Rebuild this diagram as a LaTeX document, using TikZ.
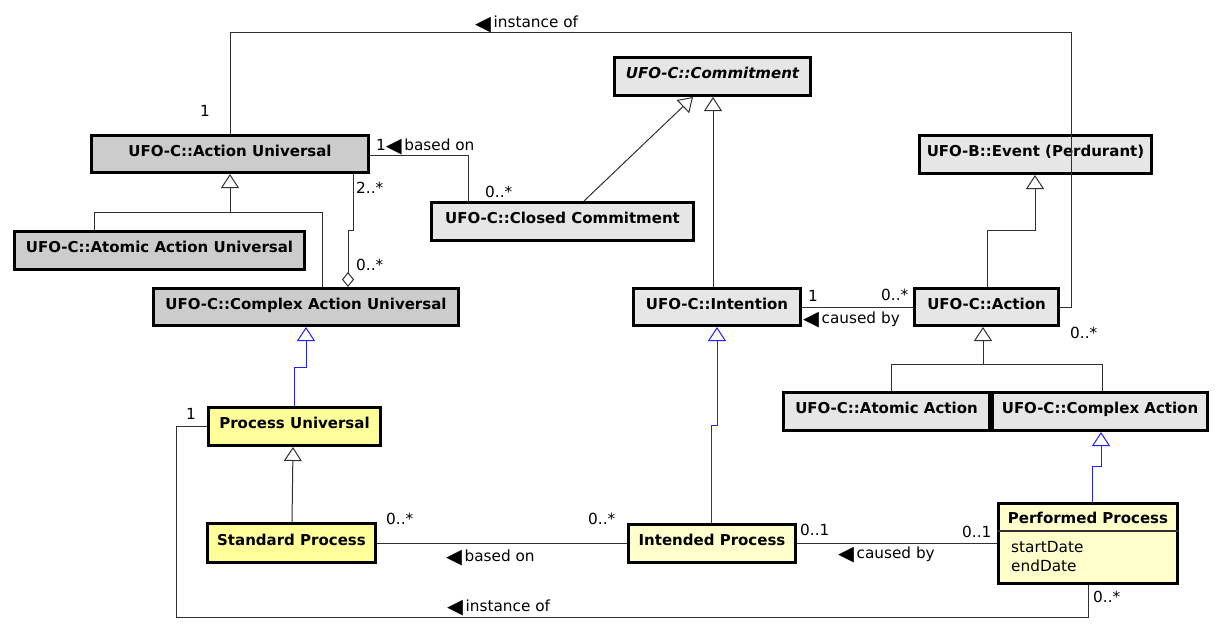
\documentclass[tikz,border=0pt]{standalone}
\usepackage{fontspec}
\setmainfont{DejaVu Sans}
\usetikzlibrary{arrows.meta}
\definecolor{dgrey}{HTML}{CCCCCC}
\definecolor{lgrey}{HTML}{E6E6E6}
\definecolor{yel}{HTML}{FFFF99}
\definecolor{lyel}{HTML}{FFFFCC}
\definecolor{umlblue}{HTML}{2020FF}
\definecolor{wirec}{HTML}{303030}
\newcommand{\rdtri}{\raisebox{-2pt}{\scalebox{1.35}{◀}}\hspace{2.5pt}}
\begin{document}
\begin{tikzpicture}[x=1pt,y=-1pt,
 cls/.style={draw=black, line width=3pt, rectangle, inner sep=0pt,
   font=\fontsize{15}{17}\selectfont\bfseries, text height=11pt, text depth=7pt, align=center},
 lbl/.style={inner sep=0pt, anchor=base west, font=\fontsize{15.3}{17}\selectfont},
 wire/.style={draw=wirec, line width=1pt},
 gen/.style={wire, -{Triangle[open,length=14pt,width=18pt,fill=white]}},
 bgen/.style={gen, draw=umlblue},
 agg/.style={wire, {Diamond[open,length=15pt,width=12pt,fill=white]}-},
]
\fill[white] (0,0) rectangle (1221,642);
\useasboundingbox (0,0) rectangle (1221,642);

% classes
\node[cls, fill=dgrey, minimum width=277pt, minimum height=37pt] (AU) at (230,154) {UFO-C::Action Universal};
\node[cls, fill=dgrey, minimum width=290pt, minimum height=38pt] (AAU) at (159.5,250.5) {UFO-C::Atomic Action Universal};
\node[cls, fill=dgrey, minimum width=305pt, minimum height=37pt] (CAU) at (306,307) {UFO-C::Complex Action Universal};
\node[cls, fill=lgrey, minimum width=196pt, minimum height=38pt, font=\fontsize{15}{17}\selectfont\bfseries\itshape] (Commit) at (712.5,76.5) {UFO-C::Commitment};
\node[cls, fill=lgrey, minimum width=262pt, minimum height=38pt] (Closed) at (562.5,221.5) {UFO-C::Closed Commitment};
\node[cls, fill=lgrey, minimum width=232pt, minimum height=38pt] (Event) at (1035.5,154.5) {UFO-B::Event (Perdurant)};
\node[cls, fill=lgrey, minimum width=167pt, minimum height=37pt] (Intention) at (717,307) {UFO-C::Intention};
\node[cls, fill=lgrey, minimum width=144pt, minimum height=37pt] (Action) at (986.5,307) {UFO-C::Action};
\node[cls, fill=lgrey, minimum width=206pt, minimum height=38pt] (AtomA) at (886.5,411.5) {UFO-C::Atomic Action};
\node[cls, fill=lgrey, minimum width=215pt, minimum height=38pt] (CompA) at (1100,411.5) {UFO-C::Complex Action};
\node[cls, fill=yel, minimum width=172pt, minimum height=38pt] (ProcU) at (294.5,426.5) {Process Universal};
\node[cls, fill=yel, minimum width=168pt, minimum height=39pt] (Std) at (291.5,543) {Standard Process};
\node[cls, fill=lyel, minimum width=167pt, minimum height=38pt] (Intended) at (712,543.5) {Intended Process};
\node[cls, fill=lyel, minimum width=179pt, minimum height=80pt] (PP) at (1088,543.5) {};
\node[inner sep=0pt, anchor=base, font=\fontsize{15}{17}\selectfont\bfseries] (PPt) at (1088,523) {Performed Process};
\coordinate (PPdiv) at (1088,531);
\draw[line width=1.5pt, draw=wirec] (PPdiv -| PP.west) -- (PPdiv -| PP.east);
\node[lbl] (PPa1) at (1011,552) {startDate};
\node[lbl] (PPa2) at (1011,571) {endDate};

% coordinates for bends
\coordinate (tl) at (230,33);
\coordinate (tr) at (1071,33);
\coordinate (bo) at (468,155);
\coordinate (ag1) at (348,230);
\coordinate (ag2) at (353,230);
\coordinate (g1) at (230,212);
\coordinate (g1l) at (94,212);
\coordinate (g1r) at (322,212);
\coordinate (cc1) at (584,0);
\coordinate (cc2) at (693,0);
\coordinate (ic) at (713,0);
\coordinate (ae1) at (987,230);
\coordinate (ae2) at (1035,230);
\coordinate (aa) at (983,364);
\coordinate (aal) at (891,364);
\coordinate (aar) at (1102,364);
\coordinate (b1a) at (294,367);
\coordinate (b1b) at (306,367);
\coordinate (sp1) at (292,0);
\coordinate (sp2) at (293,0);
\coordinate (b2a) at (711,425);
\coordinate (b2b) at (717,425);
\coordinate (b3a) at (1092,466);
\coordinate (b3b) at (1101,466);
\coordinate (ib1) at (176,617);
\coordinate (ib2) at (1088,617);

% connectors
\draw[wire] (AU.north -| tl) -- (tl) -- (tr) |- (Action.east);
\draw[wire] (AU.east |- bo) -| (Closed.north -| bo);
\draw[agg] (CAU.north -| ag1) -- (ag1) -- (ag2) -- (AU.south -| ag2);
\draw[gen] (AAU.north -| g1l) -- (g1l) -- (g1) -- (AU.south -| g1);
\draw[wire] (CAU.north -| g1r) -- (g1r) -- (g1);
\draw[gen] (Closed.north -| cc1) -- (Commit.south -| cc2);
\draw[gen] (Intention.north -| ic) -- (Commit.south -| ic);
\draw[gen] (Action.north -| ae1) -- (ae1) -- (ae2) -- (Event.south -| ae2);
\draw[wire] (Intention.east) -- (Action.west);
\draw[gen] (AtomA.north -| aal) -- (aal) -- (aa) -- (Action.south -| aa);
\draw[wire] (CompA.north -| aar) -- (aar) -- (aa);
\draw[bgen] (ProcU.north -| b1a) -- (b1a) -- (b1b) -- (CAU.south -| b1b);
\draw[gen] (Std.north -| sp1) -- (ProcU.south -| sp2);
\draw[bgen] (Intended.north -| b2a) -- (b2a) -- (b2b) -- (Intention.south -| b2b);
\draw[bgen] (PP.north -| b3a) -- (b3a) -- (b3b) -- (CompA.south -| b3b);
\draw[wire] (Std.east) -- (Std.east -| Intended.west);
\draw[wire] (Intended.east) -- (Intended.east -| PP.west);
\draw[wire] (ProcU.west) -| (ib1) -- (ib2) -- (PP.south -| ib2);

% labels
\node[lbl] (m1) at (200,117) {1};
\node[lbl] (n1) at (475,28) {\rdtri instance of};
\node[lbl] (m2) at (376,150) {1\rdtri based on};
\node[lbl] (m3) at (485,197) {0..*};
\node[lbl] (m4) at (356,193) {2..*};
\node[lbl] (m5) at (356,270) {0..*};
\node[lbl] (m6) at (808,301) {1};
\node[lbl] (m7) at (881,300) {0..*};
\node[lbl] (n2) at (803,323) {\rdtri caused by};
\node[lbl] (m8) at (1070,338) {0..*};
\node[lbl] (m9) at (186,419) {1};
\node[lbl] (m10) at (386,524) {0..*};
\node[lbl] (m11) at (588,524) {0..*};
\node[lbl] (n3) at (446,561) {\rdtri based on};
\node[lbl] (m12) at (800,535) {0..1};
\node[lbl] (m13) at (962,537) {0..1};
\node[lbl] (n4) at (838,558) {\rdtri caused by};
\node[lbl] (n5) at (447,611) {\rdtri instance of};
\node[lbl] (m14) at (1093,602) {0..*};
\end{tikzpicture}
\end{document}
